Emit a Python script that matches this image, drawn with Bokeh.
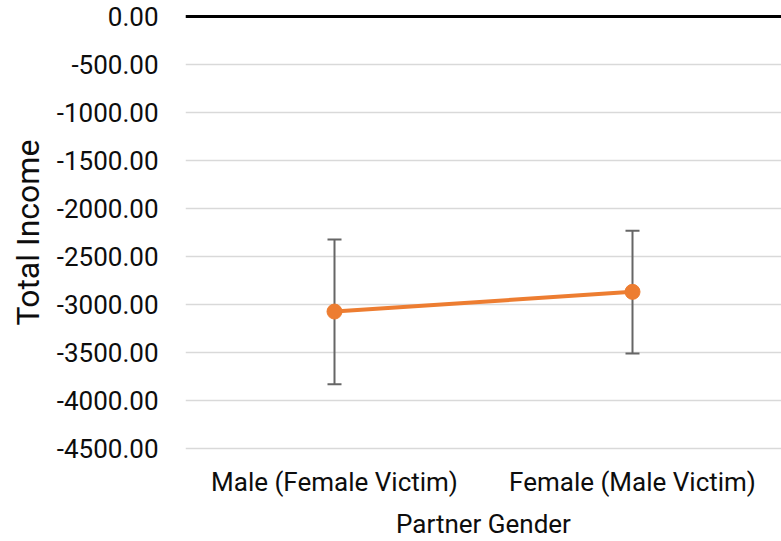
from bokeh.plotting import figure
from bokeh.models import ColumnDataSource, Whisker, TeeHead, Span, FixedTicker, NumeralTickFormatter
from bokeh.embed import file_html
from bokeh.resources import INLINE

categories = ["Male (Female Victim)", "Female (Male Victim)"]
means = [-3073, -2868]
upper = [-2323, -2232]
lower = [-3830, -3510]
y_ticks = [0, -500, -1000, -1500, -2000, -2500, -3000, -3500, -4000, -4500]

src = ColumnDataSource(dict(x=categories, y=means, upper=upper, lower=lower))

p = figure(width=781, height=541, x_range=categories, y_range=(-4530, 30),
           output_backend="svg", toolbar_location=None,
           min_border_left=185, min_border_right=0, min_border_top=13, min_border_bottom=8)
p.outline_line_color = None
p.background_fill_color = "white"
p.border_fill_color = "white"

font = "Roboto"
p.xgrid.grid_line_color = None
p.ygrid.grid_line_color = "#d9d9d9"
p.ygrid.grid_line_width = 1.5

p.yaxis.ticker = FixedTicker(ticks=y_ticks)
p.yaxis.formatter = NumeralTickFormatter(format="0.00")
for ax in (p.xaxis[0], p.yaxis[0]):
    ax.axis_line_color = None
    ax.major_tick_line_color = None
    ax.minor_tick_line_color = None
    ax.major_label_text_font = font
    ax.major_label_text_font_size = "26px"
    ax.major_label_text_color = "#0d0d0d"
    ax.axis_label_text_font = font
    ax.axis_label_text_font_style = "normal"
    ax.axis_label_text_color = "#0d0d0d"

p.yaxis.axis_label = "Total Income"
p.yaxis.axis_label_text_font_size = "32px"
p.yaxis.major_label_standoff = 21
p.yaxis.axis_label_standoff = 7
p.xaxis.axis_label = "Partner Gender"
p.xaxis.axis_label_text_font_size = "26px"
p.xaxis.major_label_standoff = 9
p.xaxis.axis_label_standoff = 9

p.add_layout(Span(location=0, dimension="width", line_color="black", line_width=3))

p.add_layout(Whisker(source=src, base="x", upper="upper", lower="lower",
                     line_color="#666666", line_width=2,
                     upper_head=TeeHead(size=14, line_color="#666666", line_width=2),
                     lower_head=TeeHead(size=14, line_color="#666666", line_width=2)))

p.line("x", "y", source=src, line_color="#ED7D31", line_width=4)
p.scatter("x", "y", source=src, size=15, fill_color="#ED7D31", line_color="#ED7D31")

open("out.html", "w").write(file_html(p, INLINE))
